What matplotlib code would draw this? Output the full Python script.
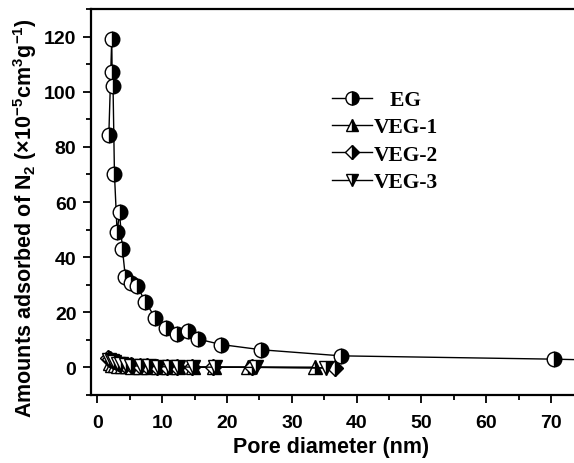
import matplotlib
matplotlib.use("Agg")
import matplotlib.pyplot as plt
from matplotlib.ticker import MultipleLocator

plt.rcParams['font.family'] = ['Liberation Sans', 'DejaVu Sans']
plt.rcParams['font.weight'] = 'bold'
plt.rcParams['mathtext.fontset'] = 'custom'
plt.rcParams['mathtext.rm'] = 'Liberation Sans:bold'
plt.rcParams['mathtext.it'] = 'Liberation Sans:bold'
plt.rcParams['mathtext.bf'] = 'Liberation Sans:bold'

# Data
eg_x = [1.75, 2.2, 2.26, 2.4, 2.62, 3.03, 3.4, 3.85, 4.3, 5.1, 6.1, 7.4, 8.9,
        10.6, 12.2, 14.0, 15.5, 19.1, 25.3, 37.6, 70.4, 80.0]
eg_y = [84.2, 119.0, 107.0, 102.0, 70.1, 49.0, 56.2, 42.9, 32.8, 30.8, 29.6, 23.8,
        18.0, 14.4, 12.3, 13.3, 10.3, 8.3, 6.4, 4.2, 3.0, 2.5]

veg1_x = [1.9, 2.3, 2.7, 3.2, 3.8, 4.5, 5.3, 6.6, 7.8, 9.3, 10.9, 12.4, 14.7, 18.0, 23.3, 33.6]
veg1_y = [1.5, 1.0, 0.8, 0.6, 0.5, 0.4, 0.3, 0.3, 0.2, 0.2, 0.2, 0.1, 0.1, 0.1, 0.1, 0.1]

veg2_x = [1.6, 2.0, 2.4, 2.9, 3.5, 4.2, 5.1, 6.6, 7.7, 9.2, 10.8, 12.3, 14.6, 17.9, 23.9, 36.7]
veg2_y = [3.4, 2.9, 2.4, 1.9, 1.4, 1.0, 0.7, 0.5, 0.4, 0.3, 0.3, 0.2, 0.2, 0.1, 0.1, -0.2]

veg3_x = [1.8, 2.2, 2.6, 3.1, 3.7, 4.4, 5.2, 6.7, 7.9, 9.4, 11.0, 12.5, 14.8, 18.2, 24.5, 35.2]
veg3_y = [2.6, 2.2, 1.8, 1.4, 1.1, 0.9, 0.6, 0.5, 0.4, 0.3, 0.2, 0.2, 0.1, 0.1, 0.0, -0.2]

labels = ['EG', 'VEG-1', 'VEG-2', 'VEG-3']
xticks = [0, 10, 20, 30, 40, 50, 60, 70]
yticks = [0, 20, 40, 60, 80, 100, 120]

W, H = 574, 464
fig = plt.figure(figsize=(W / 100, H / 100), dpi=100)
xmin, xmax = -1, 80
px0, px_right = 91, 97 + 80 * 6.486
ax = fig.add_axes([px0 / W, (H - 396) / H, (px_right - px0) / W, (396 - 10) / H])

common = dict(color='black', lw=1.0, markeredgecolor='black', markerfacecolor='black',
              markerfacecoloralt='white', fillstyle='right', markeredgewidth=1.0)
l1, = ax.plot(veg1_x, veg1_y, marker='^', ms=10, **common)
l2, = ax.plot(veg2_x, veg2_y, marker='D', ms=8, **common)
l3, = ax.plot(veg3_x, veg3_y, marker='v', ms=10, **common)
l0, = ax.plot(eg_x, eg_y, marker='o', ms=10.5, **common)

ax.set_xlim(xmin, xmax)
ax.set_ylim(-10, 130)
ax.set_xticks(xticks)
ax.set_yticks(yticks)
ax.xaxis.set_minor_locator(MultipleLocator(5))
ax.yaxis.set_minor_locator(MultipleLocator(10))
ax.tick_params(which='major', direction='out', length=6, width=1.3, labelsize=14)
ax.tick_params(which='minor', direction='out', length=3.6, width=1.3)
ax.tick_params(axis='x', which='major', pad=8)
ax.tick_params(axis='y', which='major', pad=4.5)
for s in ax.spines.values():
    s.set_linewidth(1.6)
ax.spines['right'].set_visible(False)

ax.set_xlabel('Pore diameter (nm)', fontsize=15.5, fontweight='bold')
ax.xaxis.set_label_coords((331 - px0) / (px_right - px0), -0.106)
ax.set_ylabel('Amounts adsorbed of N$_2$ (×10$^{-5}$cm$^3$g$^{-1}$)', fontsize=15.5, fontweight='bold')
ax.yaxis.set_label_coords(-0.099, 0.461)

leg = ax.legend([l0, l1, l2, l3], ['   EG'] + labels[1:], loc='upper left',
                bbox_to_anchor=(332 / W, 1 - 91 / H),
                bbox_transform=fig.transFigure, frameon=False, borderpad=0, borderaxespad=0,
                handlelength=1.85, handletextpad=0.1, labelspacing=0.34, markerscale=0.9,
                prop={'family': 'Liberation Serif', 'weight': 'bold', 'size': 15.5})

fig.savefig('out.png', dpi=100)
